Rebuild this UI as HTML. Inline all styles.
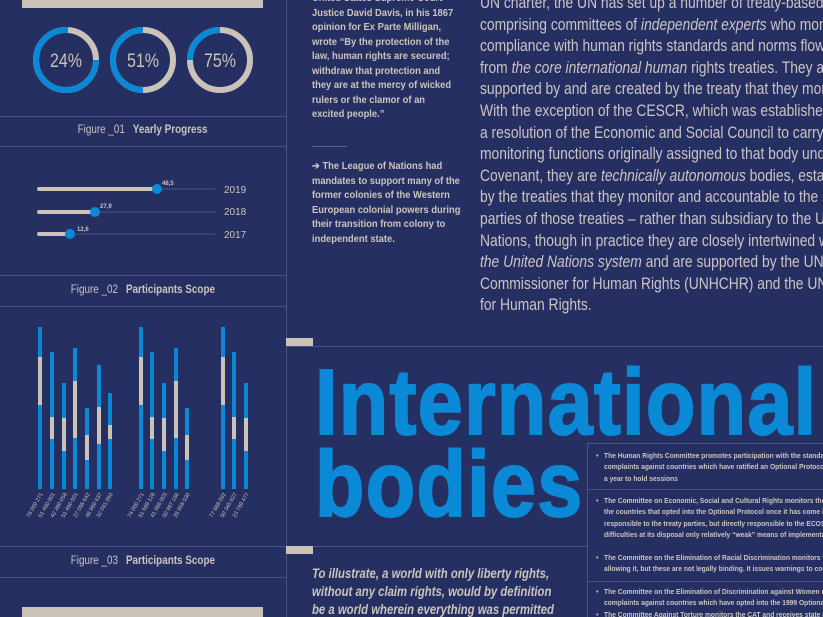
<!DOCTYPE html>
<html><head><meta charset="utf-8"><style>
html,body{margin:0;padding:0;overflow:hidden}
body{width:823px;height:617px;overflow:hidden;background:#262f62;position:relative;font-family:"Liberation Sans",sans-serif;color:#cbc4bd}
#wrap{position:absolute;left:0;top:0;width:823px;height:617px;overflow:hidden}
.a{position:absolute}
.hl{position:absolute;height:1px;background:#4a5389}
.vl{position:absolute;width:1px;background:#4a5389}
.beige{position:absolute;background:#cbc3b8}
.cap{position:absolute;left:0;width:286px;text-align:center;font-size:11.5px;color:#cbc4bd}
.cap span{display:inline-block;transform:scaleX(0.86)}
.cap b{margin-left:6px}
.para{position:absolute;left:480px;top:-7px;font-size:16.5px;line-height:21.6px;white-space:nowrap;color:#cbc4c4;transform:scaleX(0.84);transform-origin:0 0}
.side{position:absolute;left:312px;font-size:10.2px;font-weight:bold;line-height:14.5px;color:#cbc4bd;white-space:nowrap;transform:scaleX(0.92);transform-origin:0 0}
.tbl{position:absolute;left:604px;font-size:7.6px;font-weight:bold;line-height:11.3px;white-space:nowrap;color:#cbc4bd;transform:scaleX(0.88);transform-origin:0 0}
.tbl:before{content:"•";position:absolute;left:-9px}
</style></head><body><div id="wrap">
<div class="beige" style="left:22px;top:0;width:241px;height:8px"></div>
<div class="beige" style="left:22px;top:607px;width:241px;height:10px"></div>
<div class="vl" style="left:286px;top:0;height:617px"></div>
<div class="hl" style="left:0;top:116px;width:286px"></div>
<div class="hl" style="left:0;top:146px;width:286px"></div>
<div class="hl" style="left:0;top:275px;width:286px"></div>
<div class="hl" style="left:0;top:306px;width:286px"></div>
<div class="hl" style="left:0;top:546px;width:823px"></div>
<div class="hl" style="left:0;top:577px;width:286px"></div>
<div class="hl" style="left:286px;top:346px;width:537px"></div>
<div class="beige" style="left:286px;top:338px;width:27px;height:8px"></div>
<div class="beige" style="left:286px;top:546px;width:27px;height:8px"></div>

<svg class="a" style="left:0;top:0" width="286" height="546">
<g fill="none" stroke-width="6">
<circle cx="66" cy="60" r="30" stroke="#cbc3b8"/>
<circle cx="66" cy="60" r="30" stroke="#0a8ad6" stroke-dasharray="143.3 188.5"/>
<circle cx="143" cy="60" r="30" stroke="#cbc3b8"/>
<circle cx="143" cy="60" r="30" stroke="#0a8ad6" stroke-dasharray="94 188.5" transform="rotate(90 143 60)"/>
<circle cx="220" cy="60" r="30" stroke="#cbc3b8"/>
<circle cx="220" cy="60" r="30" stroke="#0a8ad6" stroke-dasharray="47 188.5" transform="rotate(180 220 60)"/>
</g>
<g font-size="19" fill="#cbc3b8" text-anchor="middle" font-family="Liberation Sans">
<text x="66" y="67" lengthAdjust="spacingAndGlyphs" textLength="32">24%</text>
<text x="143" y="67" lengthAdjust="spacingAndGlyphs" textLength="32">51%</text>
<text x="220" y="67" lengthAdjust="spacingAndGlyphs" textLength="32">75%</text>
</g>
<g stroke="#4a5389" stroke-width="1"><line x1="38" y1="189" x2="215" y2="189"/><line x1="38" y1="212" x2="215" y2="212"/><line x1="38" y1="234" x2="215" y2="234"/></g>
<g stroke="#cbc3b8" stroke-width="4" stroke-linecap="round"><line x1="39" y1="189" x2="157" y2="189"/><line x1="39" y1="212" x2="95" y2="212"/><line x1="39" y1="234" x2="70" y2="234"/></g>
<g fill="#0a8ad6"><circle cx="157" cy="189" r="5"/><circle cx="95" cy="212" r="5"/><circle cx="70" cy="234" r="5"/></g>
<g font-size="6" font-weight="bold" fill="#cbc3b8"><text x="162" y="185">48,5</text><text x="100" y="208">27,9</text><text x="77" y="231">12,6</text></g>
<g font-size="10" fill="#cbc3b8"><text x="224" y="193">2019</text><text x="224" y="215">2018</text><text x="224" y="238">2017</text></g>
<g fill="#0a8ad6">
<rect x="38" y="327" width="4" height="162"/><rect x="50" y="352" width="4" height="137"/><rect x="62" y="383" width="4" height="106"/><rect x="73" y="348" width="4" height="141"/><rect x="85" y="408" width="4" height="81"/><rect x="97" y="365" width="4" height="124"/><rect x="108" y="393" width="4" height="96"/>
<rect x="139" y="327" width="4" height="162"/><rect x="150" y="352" width="4" height="137"/><rect x="162" y="383" width="4" height="106"/><rect x="174" y="348" width="4" height="141"/><rect x="185" y="408" width="4" height="81"/>
<rect x="221" y="327" width="4" height="162"/><rect x="232" y="352" width="4" height="137"/><rect x="244" y="383" width="4" height="106"/>
</g>
<g fill="#cbc3b8">
<rect x="38" y="357" width="4" height="48"/><rect x="50" y="417" width="4" height="22"/><rect x="62" y="418" width="4" height="33"/><rect x="73" y="381" width="4" height="57"/><rect x="85" y="435" width="4" height="25"/><rect x="97" y="407" width="4" height="37"/><rect x="108" y="425" width="4" height="14"/>
<rect x="139" y="357" width="4" height="48"/><rect x="150" y="417" width="4" height="22"/><rect x="162" y="418" width="4" height="33"/><rect x="174" y="381" width="4" height="57"/><rect x="185" y="435" width="4" height="25"/>
<rect x="221" y="357" width="4" height="48"/><rect x="232" y="417" width="4" height="22"/><rect x="244" y="418" width="4" height="33"/>
</g>
<g font-size="5.5" fill="#cbc3b8" text-anchor="end">
<text transform="translate(43 494) rotate(-60)">78 000 271</text>
<text transform="translate(55 494) rotate(-60)">51 490 001</text>
<text transform="translate(67 494) rotate(-60)">42 380 058</text>
<text transform="translate(78 494) rotate(-60)">51 490 001</text>
<text transform="translate(90 494) rotate(-60)">27 098 642</text>
<text transform="translate(102 494) rotate(-60)">48 980 637</text>
<text transform="translate(113 494) rotate(-60)">32 091 056</text>
<text transform="translate(144 494) rotate(-60)">74 000 271</text>
<text transform="translate(155 494) rotate(-60)">51 589 128</text>
<text transform="translate(167 494) rotate(-60)">41 986 003</text>
<text transform="translate(179 494) rotate(-60)">50 987 186</text>
<text transform="translate(190 494) rotate(-60)">28 858 530</text>
<text transform="translate(226 494) rotate(-60)">77 888 092</text>
<text transform="translate(237 494) rotate(-60)">50 345 627</text>
<text transform="translate(249 494) rotate(-60)">23 789 477</text>
</g>
</svg>

<div class="cap" style="top:124px"><span>Figure _01 <b>Yearly Progress</b></span></div>
<div class="cap" style="top:284px"><span>Figure _02 <b>Participants Scope</b></span></div>
<div class="cap" style="top:555px"><span>Figure _03 <b>Participants Scope</b></span></div>

<div class="side" style="top:-8px">United States Supreme Court<br>Justice David Davis, in his 1867<br>opinion for Ex Parte Milligan,<br>wrote “By the protection of the<br>law, human rights are secured;<br>withdraw that protection and<br>they are at the mercy of wicked<br>rulers or the clamor of an<br>excited people.”</div>
<div class="hl" style="left:312px;top:146px;width:35px;background:#5a6295"></div>
<div class="side" style="top:160px">➔ The League of Nations had<br>mandates to support many of the<br>former colonies of the Western<br>European colonial powers during<br>their transition from colony to<br>independent state.</div>

<div class="para">UN charter, the UN has set up a number of treaty-based bodies,<br>comprising committees of <i>independent experts</i> who monitor<br>compliance with human rights standards and norms flowing<br>from <i>the core international human</i> rights treaties. They are<br>supported by and are created by the treaty that they monitor,<br>With the exception of the CESCR, which was established under<br>a resolution of the Economic and Social Council to carry out the<br>monitoring functions originally assigned to that body under the<br>Covenant, they are <i>technically autonomous</i> bodies, established<br>by the treaties that they monitor and accountable to the state<br>parties of those treaties – rather than subsidiary to the United<br>Nations, though in practice they are closely intertwined with<br><i>the United Nations system</i> and are supported by the UN High<br>Commissioner for Human Rights (UNHCHR) and the UN Centre<br>for Human Rights.</div>

<div class="a" style="left:315px;top:361px;font-size:93px;font-weight:bold;line-height:82px;color:#0a8ad6;transform:scaleX(0.87);transform-origin:0 0;white-space:nowrap;letter-spacing:1.5px;-webkit-text-stroke:2px #0a8ad6">International<br>bodies</div>

<div class="a" style="left:587px;top:443px;width:236px;height:174px;border-left:1px solid #4a5389;border-top:1px solid #4a5389;background:#262f62"></div>
<div class="hl" style="left:587px;top:489px;width:236px"></div>
<div class="hl" style="left:587px;top:581px;width:236px"></div>
<div class="tbl" style="top:450px">The Human Rights Committee promotes participation with the standards of the ICCPR. It hears<br>complaints against countries which have ratified an Optional Protocol. It meets three times<br>a year to hold sessions</div>
<div class="tbl" style="top:495px">The Committee on Economic, Social and Cultural Rights monitors the ICESCR and hears from<br>the countries that opted into the Optional Protocol once it has come into force. It is not<br>responsible to the treaty parties, but directly responsible to the ECOSOC and faces<br>difficulties at its disposal only relatively “weak” means of implementation.</div>
<div class="tbl" style="top:552px">The Committee on the Elimination of Racial Discrimination monitors the CERD and hears<br>allowing it, but these are not legally binding. It issues warnings to countries.</div>
<div class="tbl" style="top:586px">The Committee on the Elimination of Discrimination against Women monitors the CEDAW. It hears<br>complaints against countries which have opted into the 1999 Optional Protocol.</div>
<div class="tbl" style="top:609px">The Committee Against Torture monitors the CAT and receives state reports</div>

<div class="a" style="left:312px;top:564px;font-size:14px;font-weight:bold;font-style:italic;line-height:18px;white-space:nowrap;color:#cbc4bd;transform:scaleX(0.81);transform-origin:0 0">To illustrate, a world with only liberty rights,<br>without any claim rights, would by definition<br>be a world wherein everything was permitted</div>
</div></body></html>
